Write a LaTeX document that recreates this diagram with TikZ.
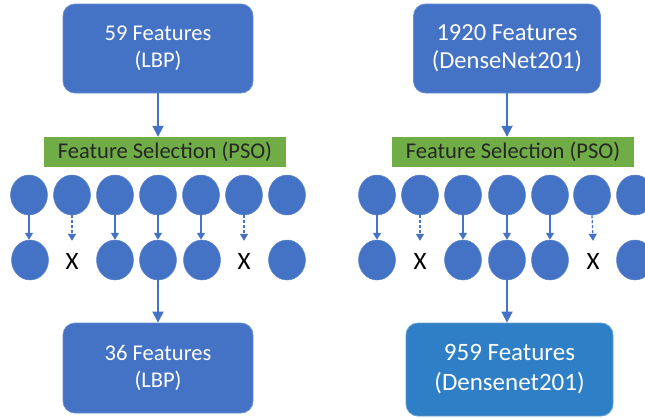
\documentclass[tikz,border=0pt]{standalone}
\usepackage{fontspec}
\setmainfont{Carlito}
\usetikzlibrary{shapes.geometric,arrows.meta}
\definecolor{bblue}{HTML}{4472C4}
\definecolor{cblue}{HTML}{2E7FC6}
\definecolor{ggreen}{HTML}{70AD47}
\tikzset{
  featbox/.style={rectangle, rounded corners=12pt, fill=bblue, draw=bblue!80!white, line width=0.8pt,
    text=white, align=center, inner sep=0pt},
  selbar/.style={rectangle, fill=ggreen, text=black!85, inner sep=0pt,
    font=\fontsize{22.5}{27}\selectfont},
  feat/.style={ellipse, fill=bblue, draw=bblue!85!white, line width=0.5pt, minimum width=37pt, minimum height=40pt, inner sep=0pt},
  dropped/.style={rectangle, minimum height=40pt, minimum width=20pt, inner sep=0pt, font=\fontsize{25}{25}\selectfont},
  keeparrow/.style={draw=bblue, line width=1.3pt, -{Triangle[length=7pt,width=8pt]}},
  droparrow/.style={draw=bblue, line width=1.3pt, dashed, dash pattern=on 3pt off 2pt, -{Triangle[length=7pt,width=8pt]}},
  mainarrow/.style={draw=bblue, line width=1.8pt, -{Triangle[length=11pt,width=11pt]}}
}
\begin{document}
\begin{tikzpicture}[x=1pt,y=-1pt]
\useasboundingbox (0,0) rectangle (645,418);
% left branch
\node[featbox, minimum width=190pt, minimum height=89pt, font=\fontsize{22.5}{27}\selectfont] (ltop) at (158,48.5) {59 Features\\(LBP)};
\node[selbar, minimum width=242pt, minimum height=30pt] (lbar) at (165,152) {Feature Selection (PSO)};
\draw[mainarrow] (ltop.south) -- (ltop.south |- lbar.north);
\foreach \i/\x in {1/29,2/72,3/115,4/158,5/201,6/244,7/287}{
  \node[feat] (lu\i) at (\x,195) {};
}
\foreach \i/\x in {1/30,3/115,4/158,5/202,7/287}{
  \node[feat] (ld\i) at (\x,260) {};
}
\node[dropped] (ld2) at (72,261) {X};
\node[dropped] (ld6) at (244,261) {X};
\foreach \i in {1,3,4,5}{ \draw[keeparrow] (lu\i.south) -- (lu\i.south |- ld\i.north); }
\foreach \i in {2,6}{ \draw[droparrow] (lu\i.south) -- (ld\i.north); }
\node[featbox, minimum width=190pt, minimum height=90pt, font=\fontsize{22.5}{27}\selectfont] (lbot) at (158,368) {36 Features\\(LBP)};
\draw[mainarrow] (ld4.south) -- (ld4.south |- lbot.north);
% right branch
\node[featbox, minimum width=187pt, minimum height=89pt, font=\fontsize{24.5}{28}\selectfont] (rtop) at (507,48.5) {1920 Features\\(DenseNet201)};
\node[selbar, minimum width=242pt, minimum height=30pt] (rbar) at (513,152) {Feature Selection (PSO)};
\draw[mainarrow] (rtop.south) -- (rtop.south |- rbar.north);
\foreach \i/\x in {1/377,2/420,3/463,4/507,5/550,6/592,7/635}{
  \node[feat] (ru\i) at (\x,195) {};
}
\foreach \i/\x in {1/377,3/463,4/507,5/550,7/635}{
  \node[feat] (rd\i) at (\x,260) {};
}
\node[dropped] (rd2) at (420,261) {X};
\node[dropped] (rd6) at (593,261) {X};
\foreach \i in {1,3,4,5}{ \draw[keeparrow] (ru\i.south) -- (ru\i.south |- rd\i.north); }
\foreach \i in {2,6}{ \draw[droparrow] (ru\i.south) -- (rd\i.north); }
\node[featbox, fill=cblue, draw=cblue!75!white, minimum width=207pt, minimum height=93pt, font=\fontsize{25}{30}\selectfont] (rbot) at (509.5,369.5) {959 Features\\(Densenet201)};
\draw[mainarrow] (rd4.south) -- (rd4.south |- rbot.north);
\end{tikzpicture}
\end{document}
